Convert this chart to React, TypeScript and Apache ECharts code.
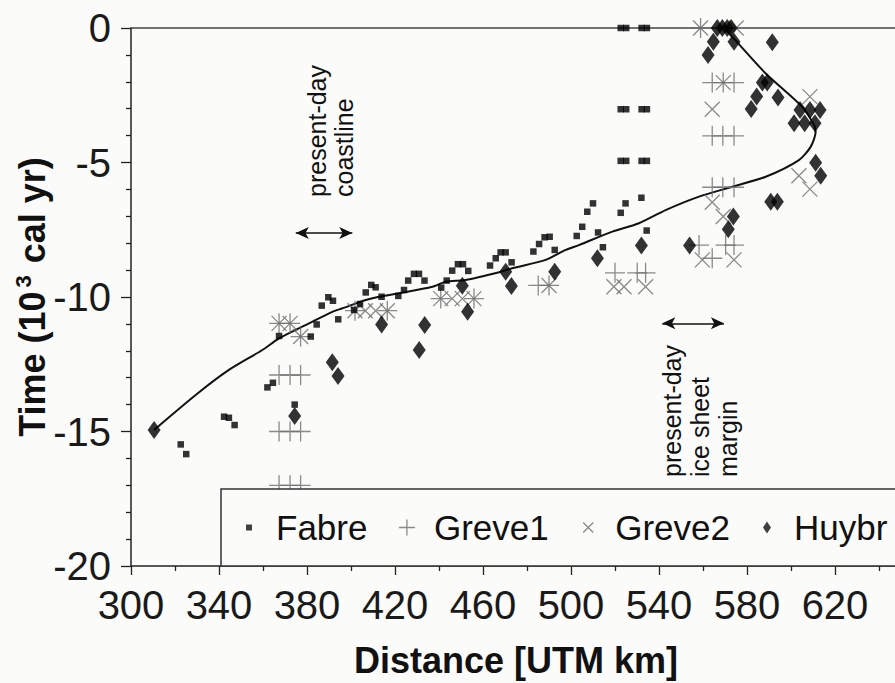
import React, { useEffect, useRef } from "react";
import * as echarts from "echarts";

// Distance [UTM km], Time [10^3 cal yr]
const fabre: [number, number][] = [
  [322.6, -15.48], [325.1, -15.84],
  [342.3, -14.45], [344.5, -14.49], [347.1, -14.76],
  [362.0, -13.36], [364.5, -13.19], [374.4, -14.0],
  [367.3, -11.45], [381.7, -11.47], [384.4, -11.02], [386.7, -10.32], [389.7, -10.01], [391.8, -10.14], [394.2, -10.83],
  [401.4, -10.48], [404.1, -10.26], [406.7, -9.83], [409.2, -9.55], [411.2, -9.64], [413.9, -9.99],
  [421.5, -9.96], [424.1, -9.74], [426.0, -9.39], [428.6, -9.14], [430.9, -9.14], [433.4, -9.39],
  [441.0, -9.65], [443.5, -9.39], [446.0, -9.02], [448.6, -8.78], [450.9, -8.78], [453.3, -9.03],
  [463.2, -8.83], [465.8, -8.56], [468.0, -8.34], [470.3, -8.34], [473.0, -8.71],
  [482.9, -8.31], [485.5, -8.03], [488.0, -7.78], [490.3, -7.76], [492.6, -8.25],
  [502.6, -7.73], [505.1, -7.39], [507.4, -6.83], [510.0, -6.52], [512.3, -7.6], [514.5, -8.15],
  [522.6, -6.87], [524.8, -6.52], [532.0, -6.31], [534.4, -7.53],
  [522.6, 0], [525.1, 0], [532.1, 0], [534.5, 0],
  [522.6, -3.02], [525.1, -3.02], [532.1, -3.02], [534.5, -3.02],
  [522.6, -4.94], [525.1, -4.94], [532.1, -4.94], [534.5, -4.94],
];

const greve1: [number, number][] = [
  [367.3, -12.9], [372.3, -12.9], [377.1, -12.9],
  [367.3, -15.0], [372.3, -15.0], [377.1, -15.0],
  [367.3, -17.0], [372.3, -17.0], [377.1, -17.0],
  [367.3, -10.98], [372.3, -10.98], [377.1, -11.47],
  [401.8, -10.51], [416.5, -10.51],
  [440.8, -10.06], [455.9, -10.06],
  [485.1, -9.57], [490.0, -9.57],
  [520.0, -9.1], [530.1, -9.1], [533.9, -9.1],
  [558.9, 0],
  [564.2, -2.03], [569.2, -2.03], [574.1, -2.03],
  [564.2, -4.01], [569.0, -4.01], [574.1, -4.01],
  [564.2, -5.92], [569.0, -5.92], [574.1, -5.92],
  [558.2, -8.07], [570.3, -8.07], [574.1, -8.07], [564.2, -8.56],
];

const greve2: [number, number][] = [
  [367.3, -10.98], [372.3, -10.98], [377.1, -11.47],
  [401.8, -10.51], [406.5, -10.51], [411.2, -10.51], [416.5, -10.51],
  [440.8, -10.06], [446.0, -10.06], [450.6, -10.06], [455.9, -10.06],
  [490.0, -9.57],
  [519.5, -9.62], [524.1, -9.62], [533.9, -9.62],
  [558.9, 0], [575.1, 0],
  [569.2, -2.03], [564.2, -3.02], [608.6, -2.55],
  [603.6, -5.49], [608.6, -5.99],
  [564.2, -6.48], [569.2, -7.01],
  [559.7, -8.62], [574.1, -8.62],
];

const huybr: [number, number][] = [
  [310.5, -14.94], [374.4, -14.42],
  [391.5, -12.43], [394.1, -12.94],
  [413.9, -11.02], [431.0, -11.97], [433.5, -11.04],
  [450.6, -9.58], [453.0, -10.55],
  [470.3, -9.06], [472.9, -9.59], [492.6, -9.06],
  [512.0, -8.56], [532.0, -8.09], [553.9, -8.09],
  [566.5, 0], [568.8, 0], [571.0, 0], [572.8, 0],
  [564.7, -0.51], [562.3, -1.0], [574.1, -0.51], [591.5, -0.53],
  [587.0, -2.03], [589.2, -2.03], [584.4, -2.55], [581.9, -3.01], [594.1, -2.58],
  [604.1, -3.05], [608.6, -3.05], [613.2, -3.05],
  [601.4, -3.54], [606.2, -3.54], [610.9, -3.54],
  [611.2, -5.01], [613.5, -5.49],
  [590.8, -6.46], [593.8, -6.46],
  [573.8, -7.01], [571.5, -7.48],
];

const fitCurve: [number, number][] = [
  [310.5, -14.94], [329.4, -13.64], [344.5, -12.71], [359.7, -11.97], [367.3, -11.54],
  [380.9, -10.98], [391.5, -10.55], [396.1, -10.42], [406.7, -10.11], [412.7, -9.99],
  [421.8, -9.86], [437.0, -9.62], [443.0, -9.43], [452.1, -9.37], [467.3, -9.08],
  [473.3, -8.93], [488.5, -8.62], [497.6, -8.25], [503.6, -8.07], [518.8, -7.57],
  [530.9, -7.26], [543.0, -6.77], [558.2, -6.27], [573.3, -5.9], [588.5, -5.53],
  [603.6, -4.91], [609.0, -4.41], [611.2, -3.86], [610.5, -3.61], [605.1, -2.93],
  [588.5, -1.69], [573.3, -0.33], [570.3, -0.07],
];

const xTickLabels = [300, 340, 380, 420, 460, 500, 540, 580, 620];
const yTickLabels = [0, -5, -10, -15, -20];

const arrowSpans: { from: [number, number]; to: [number, number] }[] = [
  { from: [374.9, -7.62], to: [400.6, -7.62] },
  { from: [541.5, -10.98], to: [569.5, -10.98] },
];

const SANS = "'Liberation Sans', Arial, sans-serif";
const NARROW = "'Liberation Sans Narrow', 'Arial Narrow', sans-serif";
const BG = "#fbfbf9";
const GRAY = "#6e6e6e";

export default function App() {
  const ref = useRef<HTMLDivElement>(null);
  useEffect(() => {
    if (!ref.current) return;
    const chart = echarts.init(ref.current, undefined, { renderer: "svg" });
    const axisColor = "#222";
    chart.setOption({
      animation: false,
      backgroundColor: BG,
      grid: { left: 131, top: 28, width: 792, height: 538, outerBoundsMode: "none", containLabel: false },
      xAxis: [
        {
          type: "value",
          min: 300,
          max: 660,
          interval: 40,
          position: "bottom",
          axisLine: { show: true, onZero: false, lineStyle: { color: axisColor, width: 1.5 } },
          axisTick: { show: true, length: 9, lineStyle: { color: axisColor, width: 1.3 } },
          minorTick: { show: true, splitNumber: 2, length: 5, lineStyle: { color: axisColor, width: 1.3 } },
          splitLine: { show: false },
          axisLabel: {
            margin: 19,
            fontFamily: NARROW,
            fontSize: 40,
            color: "#1a1a1a",
            formatter: (v: number) => (xTickLabels.indexOf(v) >= 0 ? String(v) : ""),
          },
          name: "Distance [UTM km]",
          nameLocation: "middle",
          nameGap: 76,
          nameMoveOverlap: false,
          nameTextStyle: {
            fontFamily: SANS,
            fontWeight: "bold",
            fontSize: 36,
            color: "#111",
            padding: [0, 22, 0, 0],
          },
        },
        {
          type: "value",
          min: 300,
          max: 660,
          position: "top",
          axisLine: { show: true, onZero: false, lineStyle: { color: "#444", width: 1.5 } },
          axisTick: { show: false },
          axisLabel: { show: false },
          splitLine: { show: false },
        },
      ],
      yAxis: {
        type: "value",
        min: -20,
        max: 0,
        interval: 5,
        axisLine: { show: true, onZero: false, lineStyle: { color: axisColor, width: 1.5 } },
        axisTick: { show: true, length: 10, lineStyle: { color: axisColor, width: 1.3 } },
        minorTick: { show: true, splitNumber: 5, length: 5, lineStyle: { color: axisColor, width: 1.3 } },
        splitLine: { show: false },
        axisLabel: {
          margin: 20,
          fontFamily: NARROW,
          fontSize: 40,
          color: "#1a1a1a",
          formatter: (v: number) => (yTickLabels.indexOf(v) >= 0 ? String(v) : ""),
        },
        name: "{a|Time (10}{b|3}{a| cal yr)}",
        nameLocation: "middle",
        nameGap: 79,
        nameMoveOverlap: false,
        nameTextStyle: {
          fontFamily: SANS,
          fontWeight: "bold",
          fontSize: 36,
          color: "#111",
          rich: {
            a: { fontFamily: SANS, fontWeight: "bold", fontSize: 36, color: "#111", lineHeight: 40 },
            b: { fontFamily: SANS, fontWeight: "bold", fontSize: 22, color: "#111", verticalAlign: "top", lineHeight: 40, padding: [0, 2, 0, 4] },
          },
        },
      },
      legend: {
        left: 232,
        top: 508,
        orient: "horizontal",
        itemWidth: 44,
        itemHeight: 34,
        itemGap: 20,
        padding: 0,
        z: 60,
        selectedMode: false,
        textStyle: { fontFamily: SANS, fontSize: 35, color: "#111" },
        data: [
          {
            name: "Fabre",
            icon: "path://M0 0M34 34M14 14h6v6h-6z",
            itemStyle: { color: "#111", borderWidth: 0 },
          },
          {
            name: "Greve1",
            icon: "path://M0 0M34 34M17 9V25M9 17H25",
            itemStyle: { color: "none", borderColor: GRAY, borderWidth: 1.3 },
          },
          {
            name: "Greve2",
            icon: "path://M0 0M34 34M12 12L22 22M22 12L12 22",
            itemStyle: { color: "none", borderColor: GRAY, borderWidth: 1.3 },
          },
          {
            name: "Huybr",
            icon: "path://M0 0M34 34M17 11L21 17L17 23L13 17Z",
            itemStyle: { color: "#111", borderWidth: 0 },
          },
        ],
      },
      graphic: [
        {
          type: "rect",
          z: 50,
          shape: { x: 221, y: 489, width: 720, height: 77 },
          style: { fill: BG, stroke: "#333", lineWidth: 1.5 },
        },
        {
          type: "text",
          x: 303,
          y: 197,
          rotation: Math.PI / 2,
          z: 40,
          style: {
            text: "present-day\ncoastline",
            fontFamily: SANS,
            fontSize: 25,
            lineHeight: 27,
            fill: "#111",
            align: "left",
            verticalAlign: "top",
          },
        },
        {
          type: "text",
          x: 657.5,
          y: 477,
          rotation: Math.PI / 2,
          z: 40,
          style: {
            text: "present-day\nice sheet\nmargin",
            fontFamily: SANS,
            fontSize: 25,
            lineHeight: 28.3,
            fill: "#111",
            align: "left",
            verticalAlign: "top",
          },
        },
      ],
      series: [
        {
          name: "fit",
          type: "line",
          data: fitCurve,
          showSymbol: false,
          smooth: 0.25,
          lineStyle: { color: "#111", width: 2 },
          z: 3,
          silent: true,
          markLine: {
            silent: true,
            symbol: ["arrow", "arrow"],
            symbolSize: [9, 13],
            lineStyle: { color: "#111", width: 1.6, type: "solid" },
            label: { show: false },
            data: arrowSpans.map((a) => [{ coord: a.from }, { coord: a.to }]),
          },
        },
        {
          name: "Fabre",
          type: "scatter",
          data: fabre,
          symbol: "rect",
          symbolSize: 6.5,
          itemStyle: { color: "#000" },
          z: 4,
        },
        {
          name: "Greve1",
          type: "scatter",
          data: greve1,
          symbol: "path://M10 0L10 20M0 10L20 10",
          symbolSize: 20,
          itemStyle: { color: "none", borderColor: GRAY, borderWidth: 1.3 },
          z: 3,
        },
        {
          name: "Greve2",
          type: "scatter",
          data: greve2,
          symbol: "path://M0 0L20 20M20 0L0 20",
          symbolSize: 15,
          itemStyle: { color: "none", borderColor: GRAY, borderWidth: 1.3 },
          z: 3,
        },
        {
          name: "Huybr",
          type: "scatter",
          data: huybr,
          symbol: "diamond",
          symbolSize: [13, 18],
          itemStyle: { color: "#000" },
          z: 5,
        },
      ],
    });
    return () => chart.dispose();
  }, []);
  return (
    <div
      ref={ref}
      style={{ position: "fixed", left: 0, top: 0, width: 895, height: 683 }}
    />
  );
}
